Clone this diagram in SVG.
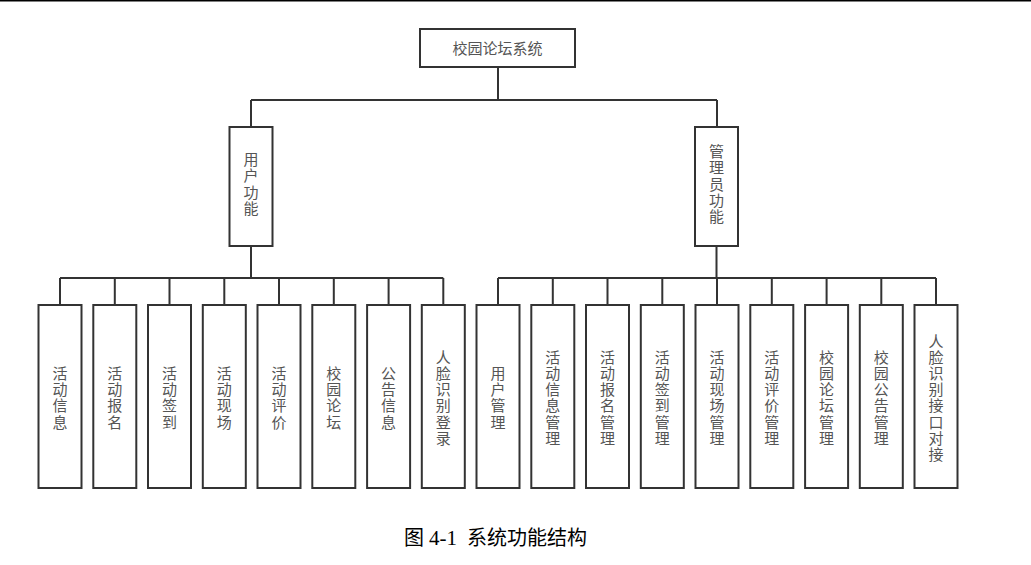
<svg xmlns="http://www.w3.org/2000/svg" width="1031" height="565" viewBox="0 0 1031 565">
<style>
.box{fill:#fff;stroke:#333;stroke-width:2}
.ln{fill:none;stroke:#333;stroke-width:2}
.t{font-family:"Liberation Serif","Noto Sans CJK SC",serif;font-size:15px;fill:#555;text-anchor:middle}
.cap{font-family:"Liberation Serif","Noto Sans CJK SC",serif;font-size:20px;fill:#000}
</style>
<rect width="1031" height="565" fill="#fff"/>
<line x1="0" y1="0.7" x2="1031" y2="0.7" stroke="#000" stroke-width="1.5"/>
<g id="connectors" class="ln">
<path d="M498 67V100M251 100H717M251 100V127M717 100V127"/>
<path d="M251 246V278M60 278H443.3M60 278V305M114.8 278V305M169.5 278V305M224.3 278V305M279 278V305M333.8 278V305M388.6 278V305M443.3 278V305"/>
<path d="M716.5 246V278M498 278H936M498 278V305M552.8 278V305M607.5 278V305M662.3 278V305M717 278V305M771.8 278V305M826.6 278V305M881.3 278V305M936 278V305"/>
</g>
<g id="root"><rect class="box" x="420" y="29" width="155" height="38"/><text class="t" x="497.5" y="53.5">校园论坛系统</text></g>
<g id="user"><rect class="box" x="229.5" y="127" width="43" height="119"/><text class="t" x="251" y="165">用<tspan x="251" dy="16.3">户</tspan><tspan x="251" dy="16.3">功</tspan><tspan x="251" dy="16.3">能</tspan></text></g>
<g id="admin"><rect class="box" x="695" y="127" width="43" height="119"/><text class="t" x="716.5" y="157">管<tspan x="716.5" dy="16.3">理</tspan><tspan x="716.5" dy="16.3">员</tspan><tspan x="716.5" dy="16.3">功</tspan><tspan x="716.5" dy="16.3">能</tspan></text></g>
<g id="u1"><rect class="box" x="38.5" y="305" width="43" height="183"/><text class="t" x="60" y="379">活<tspan x="60" dy="16.2">动</tspan><tspan x="60" dy="16.2">信</tspan><tspan x="60" dy="16.2">息</tspan></text></g>
<g id="u2"><rect class="box" x="93.3" y="305" width="43" height="183"/><text class="t" x="114.8" y="379">活<tspan x="114.8" dy="16.2">动</tspan><tspan x="114.8" dy="16.2">报</tspan><tspan x="114.8" dy="16.2">名</tspan></text></g>
<g id="u3"><rect class="box" x="148" y="305" width="43" height="183"/><text class="t" x="169.5" y="379">活<tspan x="169.5" dy="16.2">动</tspan><tspan x="169.5" dy="16.2">签</tspan><tspan x="169.5" dy="16.2">到</tspan></text></g>
<g id="u4"><rect class="box" x="202.8" y="305" width="43" height="183"/><text class="t" x="224.3" y="379">活<tspan x="224.3" dy="16.2">动</tspan><tspan x="224.3" dy="16.2">现</tspan><tspan x="224.3" dy="16.2">场</tspan></text></g>
<g id="u5"><rect class="box" x="257.5" y="305" width="43" height="183"/><text class="t" x="279" y="379">活<tspan x="279" dy="16.2">动</tspan><tspan x="279" dy="16.2">评</tspan><tspan x="279" dy="16.2">价</tspan></text></g>
<g id="u6"><rect class="box" x="312.3" y="305" width="43" height="183"/><text class="t" x="333.8" y="379">校<tspan x="333.8" dy="16.2">园</tspan><tspan x="333.8" dy="16.2">论</tspan><tspan x="333.8" dy="16.2">坛</tspan></text></g>
<g id="u7"><rect class="box" x="367.1" y="305" width="43" height="183"/><text class="t" x="388.6" y="379">公<tspan x="388.6" dy="16.2">告</tspan><tspan x="388.6" dy="16.2">信</tspan><tspan x="388.6" dy="16.2">息</tspan></text></g>
<g id="u8"><rect class="box" x="421.8" y="305" width="43" height="183"/><text class="t" x="443.3" y="362.8">人<tspan x="443.3" dy="16.2">脸</tspan><tspan x="443.3" dy="16.2">识</tspan><tspan x="443.3" dy="16.2">别</tspan><tspan x="443.3" dy="16.2">登</tspan><tspan x="443.3" dy="16.2">录</tspan></text></g>
<g id="a1"><rect class="box" x="476.5" y="305" width="43" height="183"/><text class="t" x="498" y="379">用<tspan x="498" dy="16.2">户</tspan><tspan x="498" dy="16.2">管</tspan><tspan x="498" dy="16.2">理</tspan></text></g>
<g id="a2"><rect class="box" x="531.3" y="305" width="43" height="183"/><text class="t" x="552.8" y="362.8">活<tspan x="552.8" dy="16.2">动</tspan><tspan x="552.8" dy="16.2">信</tspan><tspan x="552.8" dy="16.2">息</tspan><tspan x="552.8" dy="16.2">管</tspan><tspan x="552.8" dy="16.2">理</tspan></text></g>
<g id="a3"><rect class="box" x="586" y="305" width="43" height="183"/><text class="t" x="607.5" y="362.8">活<tspan x="607.5" dy="16.2">动</tspan><tspan x="607.5" dy="16.2">报</tspan><tspan x="607.5" dy="16.2">名</tspan><tspan x="607.5" dy="16.2">管</tspan><tspan x="607.5" dy="16.2">理</tspan></text></g>
<g id="a4"><rect class="box" x="640.8" y="305" width="43" height="183"/><text class="t" x="662.3" y="362.8">活<tspan x="662.3" dy="16.2">动</tspan><tspan x="662.3" dy="16.2">签</tspan><tspan x="662.3" dy="16.2">到</tspan><tspan x="662.3" dy="16.2">管</tspan><tspan x="662.3" dy="16.2">理</tspan></text></g>
<g id="a5"><rect class="box" x="695.5" y="305" width="43" height="183"/><text class="t" x="717" y="362.8">活<tspan x="717" dy="16.2">动</tspan><tspan x="717" dy="16.2">现</tspan><tspan x="717" dy="16.2">场</tspan><tspan x="717" dy="16.2">管</tspan><tspan x="717" dy="16.2">理</tspan></text></g>
<g id="a6"><rect class="box" x="750.3" y="305" width="43" height="183"/><text class="t" x="771.8" y="362.8">活<tspan x="771.8" dy="16.2">动</tspan><tspan x="771.8" dy="16.2">评</tspan><tspan x="771.8" dy="16.2">价</tspan><tspan x="771.8" dy="16.2">管</tspan><tspan x="771.8" dy="16.2">理</tspan></text></g>
<g id="a7"><rect class="box" x="805.1" y="305" width="43" height="183"/><text class="t" x="826.6" y="362.8">校<tspan x="826.6" dy="16.2">园</tspan><tspan x="826.6" dy="16.2">论</tspan><tspan x="826.6" dy="16.2">坛</tspan><tspan x="826.6" dy="16.2">管</tspan><tspan x="826.6" dy="16.2">理</tspan></text></g>
<g id="a8"><rect class="box" x="859.8" y="305" width="43" height="183"/><text class="t" x="881.3" y="362.8">校<tspan x="881.3" dy="16.2">园</tspan><tspan x="881.3" dy="16.2">公</tspan><tspan x="881.3" dy="16.2">告</tspan><tspan x="881.3" dy="16.2">管</tspan><tspan x="881.3" dy="16.2">理</tspan></text></g>
<g id="a9"><rect class="box" x="914.5" y="305" width="43" height="183"/><text class="t" x="936" y="346.6">人<tspan x="936" dy="16.2">脸</tspan><tspan x="936" dy="16.2">识</tspan><tspan x="936" dy="16.2">别</tspan><tspan x="936" dy="16.2">接</tspan><tspan x="936" dy="16.2">口</tspan><tspan x="936" dy="16.2">对</tspan><tspan x="936" dy="16.2">接</tspan></text></g>
<text class="cap" x="404" y="545" font-size="19">图 <tspan x="429" font-size="21">4-1</tspan> <tspan x="467" font-size="20">系统功能结构</tspan></text>
</svg>
